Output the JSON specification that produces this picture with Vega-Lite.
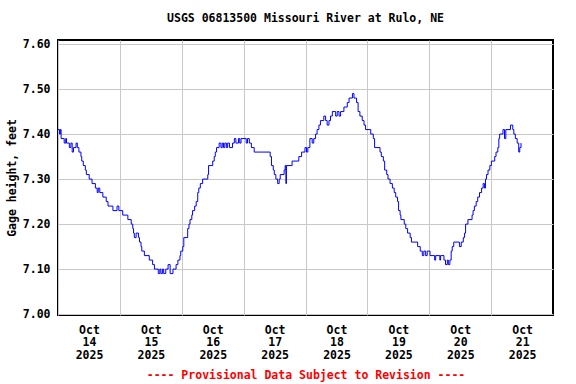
{
  "$schema": "https://vega.github.io/schema/vega-lite/v6.json",
  "autosize": {"type": "none"},
  "padding": {"left": 58, "top": 40, "right": 23, "bottom": 69},
  "width": 495,
  "height": 275,
  "background": "white",
  "title": {
    "text": "USGS 06813500 Missouri River at Rulo, NE",
    "font": "DejaVu Sans Mono",
    "fontSize": 11.5,
    "fontWeight": "bold",
    "color": "black",
    "anchor": "middle",
    "offset": 14
  },
  "config": {
    "view": {"stroke": "black", "strokeWidth": 2},
    "axis": {
      "labelFont": "DejaVu Sans Mono",
      "labelFontSize": 11.5,
      "labelFontWeight": "bold",
      "labelColor": "black",
      "titleFont": "DejaVu Sans Mono",
      "titleFontSize": 11.5,
      "titleFontWeight": "bold",
      "gridColor": "#c8c8c8",
      "gridWidth": 1,
      "gridOpacity": 1,
      "ticks": false,
      "domain": false
    }
  },
  "data": {
    "values": [
      {"time": "2025-10-14T00:00Z", "gage": 7.41},
      {"time": "2025-10-14T00:36Z", "gage": 7.40},
      {"time": "2025-10-14T00:54Z", "gage": 7.41},
      {"time": "2025-10-14T01:12Z", "gage": 7.39},
      {"time": "2025-10-14T02:24Z", "gage": 7.38},
      {"time": "2025-10-14T03:00Z", "gage": 7.39},
      {"time": "2025-10-14T03:18Z", "gage": 7.38},
      {"time": "2025-10-14T04:24Z", "gage": 7.37},
      {"time": "2025-10-14T05:00Z", "gage": 7.38},
      {"time": "2025-10-14T05:30Z", "gage": 7.36},
      {"time": "2025-10-14T06:00Z", "gage": 7.37},
      {"time": "2025-10-14T07:00Z", "gage": 7.38},
      {"time": "2025-10-14T07:30Z", "gage": 7.37},
      {"time": "2025-10-14T08:06Z", "gage": 7.36},
      {"time": "2025-10-14T08:54Z", "gage": 7.35},
      {"time": "2025-10-14T09:12Z", "gage": 7.34},
      {"time": "2025-10-14T09:48Z", "gage": 7.33},
      {"time": "2025-10-14T10:36Z", "gage": 7.32},
      {"time": "2025-10-14T11:00Z", "gage": 7.31},
      {"time": "2025-10-14T12:06Z", "gage": 7.30},
      {"time": "2025-10-14T13:12Z", "gage": 7.29},
      {"time": "2025-10-14T14:30Z", "gage": 7.28},
      {"time": "2025-10-14T15:12Z", "gage": 7.27},
      {"time": "2025-10-14T15:36Z", "gage": 7.28},
      {"time": "2025-10-14T16:12Z", "gage": 7.27},
      {"time": "2025-10-14T17:24Z", "gage": 7.26},
      {"time": "2025-10-14T18:42Z", "gage": 7.25},
      {"time": "2025-10-14T19:24Z", "gage": 7.24},
      {"time": "2025-10-14T21:18Z", "gage": 7.23},
      {"time": "2025-10-14T22:54Z", "gage": 7.24},
      {"time": "2025-10-14T23:36Z", "gage": 7.23},
      {"time": "2025-10-15T01:06Z", "gage": 7.22},
      {"time": "2025-10-15T03:06Z", "gage": 7.21},
      {"time": "2025-10-15T04:24Z", "gage": 7.20},
      {"time": "2025-10-15T05:00Z", "gage": 7.19},
      {"time": "2025-10-15T05:18Z", "gage": 7.18},
      {"time": "2025-10-15T05:36Z", "gage": 7.17},
      {"time": "2025-10-15T06:18Z", "gage": 7.18},
      {"time": "2025-10-15T07:12Z", "gage": 7.17},
      {"time": "2025-10-15T07:36Z", "gage": 7.16},
      {"time": "2025-10-15T08:12Z", "gage": 7.15},
      {"time": "2025-10-15T08:30Z", "gage": 7.14},
      {"time": "2025-10-15T09:30Z", "gage": 7.13},
      {"time": "2025-10-15T11:24Z", "gage": 7.12},
      {"time": "2025-10-15T12:42Z", "gage": 7.11},
      {"time": "2025-10-15T13:24Z", "gage": 7.10},
      {"time": "2025-10-15T14:54Z", "gage": 7.09},
      {"time": "2025-10-15T15:30Z", "gage": 7.10},
      {"time": "2025-10-15T15:54Z", "gage": 7.09},
      {"time": "2025-10-15T16:30Z", "gage": 7.10},
      {"time": "2025-10-15T17:00Z", "gage": 7.09},
      {"time": "2025-10-15T17:48Z", "gage": 7.10},
      {"time": "2025-10-15T18:42Z", "gage": 7.11},
      {"time": "2025-10-15T19:30Z", "gage": 7.09},
      {"time": "2025-10-15T20:36Z", "gage": 7.10},
      {"time": "2025-10-15T21:48Z", "gage": 7.11},
      {"time": "2025-10-15T22:30Z", "gage": 7.12},
      {"time": "2025-10-15T23:18Z", "gage": 7.13},
      {"time": "2025-10-15T23:36Z", "gage": 7.14},
      {"time": "2025-10-16T00:24Z", "gage": 7.15},
      {"time": "2025-10-16T00:48Z", "gage": 7.17},
      {"time": "2025-10-16T02:18Z", "gage": 7.19},
      {"time": "2025-10-16T02:48Z", "gage": 7.20},
      {"time": "2025-10-16T03:12Z", "gage": 7.21},
      {"time": "2025-10-16T03:54Z", "gage": 7.22},
      {"time": "2025-10-16T04:12Z", "gage": 7.23},
      {"time": "2025-10-16T05:00Z", "gage": 7.24},
      {"time": "2025-10-16T05:36Z", "gage": 7.25},
      {"time": "2025-10-16T06:12Z", "gage": 7.27},
      {"time": "2025-10-16T06:36Z", "gage": 7.28},
      {"time": "2025-10-16T07:12Z", "gage": 7.29},
      {"time": "2025-10-16T08:06Z", "gage": 7.30},
      {"time": "2025-10-16T10:06Z", "gage": 7.31},
      {"time": "2025-10-16T10:24Z", "gage": 7.33},
      {"time": "2025-10-16T12:00Z", "gage": 7.34},
      {"time": "2025-10-16T12:36Z", "gage": 7.35},
      {"time": "2025-10-16T13:00Z", "gage": 7.36},
      {"time": "2025-10-16T13:30Z", "gage": 7.37},
      {"time": "2025-10-16T14:30Z", "gage": 7.38},
      {"time": "2025-10-16T15:12Z", "gage": 7.37},
      {"time": "2025-10-16T15:42Z", "gage": 7.38},
      {"time": "2025-10-16T16:12Z", "gage": 7.37},
      {"time": "2025-10-16T16:42Z", "gage": 7.38},
      {"time": "2025-10-16T17:18Z", "gage": 7.37},
      {"time": "2025-10-16T17:48Z", "gage": 7.38},
      {"time": "2025-10-16T18:30Z", "gage": 7.37},
      {"time": "2025-10-16T19:42Z", "gage": 7.38},
      {"time": "2025-10-16T20:24Z", "gage": 7.39},
      {"time": "2025-10-16T21:00Z", "gage": 7.38},
      {"time": "2025-10-16T22:00Z", "gage": 7.39},
      {"time": "2025-10-16T22:30Z", "gage": 7.38},
      {"time": "2025-10-16T23:00Z", "gage": 7.39},
      {"time": "2025-10-17T01:00Z", "gage": 7.38},
      {"time": "2025-10-17T01:30Z", "gage": 7.39},
      {"time": "2025-10-17T02:12Z", "gage": 7.38},
      {"time": "2025-10-17T03:00Z", "gage": 7.37},
      {"time": "2025-10-17T04:06Z", "gage": 7.36},
      {"time": "2025-10-17T10:18Z", "gage": 7.35},
      {"time": "2025-10-17T10:48Z", "gage": 7.33},
      {"time": "2025-10-17T11:30Z", "gage": 7.32},
      {"time": "2025-10-17T11:54Z", "gage": 7.31},
      {"time": "2025-10-17T12:30Z", "gage": 7.30},
      {"time": "2025-10-17T13:12Z", "gage": 7.29},
      {"time": "2025-10-17T13:48Z", "gage": 7.30},
      {"time": "2025-10-17T14:12Z", "gage": 7.31},
      {"time": "2025-10-17T15:42Z", "gage": 7.32},
      {"time": "2025-10-17T16:06Z", "gage": 7.33},
      {"time": "2025-10-17T16:24Z", "gage": 7.29},
      {"time": "2025-10-17T16:36Z", "gage": 7.33},
      {"time": "2025-10-17T18:48Z", "gage": 7.34},
      {"time": "2025-10-17T21:24Z", "gage": 7.35},
      {"time": "2025-10-17T22:30Z", "gage": 7.36},
      {"time": "2025-10-17T23:48Z", "gage": 7.37},
      {"time": "2025-10-18T00:24Z", "gage": 7.36},
      {"time": "2025-10-18T00:54Z", "gage": 7.37},
      {"time": "2025-10-18T01:42Z", "gage": 7.39},
      {"time": "2025-10-18T02:36Z", "gage": 7.38},
      {"time": "2025-10-18T03:12Z", "gage": 7.39},
      {"time": "2025-10-18T03:54Z", "gage": 7.40},
      {"time": "2025-10-18T04:30Z", "gage": 7.41},
      {"time": "2025-10-18T05:12Z", "gage": 7.42},
      {"time": "2025-10-18T05:48Z", "gage": 7.43},
      {"time": "2025-10-18T07:06Z", "gage": 7.44},
      {"time": "2025-10-18T07:48Z", "gage": 7.43},
      {"time": "2025-10-18T08:24Z", "gage": 7.42},
      {"time": "2025-10-18T09:06Z", "gage": 7.43},
      {"time": "2025-10-18T09:42Z", "gage": 7.44},
      {"time": "2025-10-18T10:24Z", "gage": 7.45},
      {"time": "2025-10-18T11:42Z", "gage": 7.44},
      {"time": "2025-10-18T12:18Z", "gage": 7.45},
      {"time": "2025-10-18T13:00Z", "gage": 7.44},
      {"time": "2025-10-18T13:36Z", "gage": 7.45},
      {"time": "2025-10-18T14:54Z", "gage": 7.46},
      {"time": "2025-10-18T16:12Z", "gage": 7.47},
      {"time": "2025-10-18T16:54Z", "gage": 7.48},
      {"time": "2025-10-18T18:12Z", "gage": 7.49},
      {"time": "2025-10-18T18:48Z", "gage": 7.48},
      {"time": "2025-10-18T19:48Z", "gage": 7.47},
      {"time": "2025-10-18T20:24Z", "gage": 7.45},
      {"time": "2025-10-18T21:06Z", "gage": 7.44},
      {"time": "2025-10-18T22:00Z", "gage": 7.43},
      {"time": "2025-10-18T22:42Z", "gage": 7.42},
      {"time": "2025-10-18T23:18Z", "gage": 7.41},
      {"time": "2025-10-19T01:18Z", "gage": 7.40},
      {"time": "2025-10-19T02:18Z", "gage": 7.39},
      {"time": "2025-10-19T02:48Z", "gage": 7.37},
      {"time": "2025-10-19T04:54Z", "gage": 7.36},
      {"time": "2025-10-19T05:24Z", "gage": 7.35},
      {"time": "2025-10-19T06:12Z", "gage": 7.34},
      {"time": "2025-10-19T06:42Z", "gage": 7.32},
      {"time": "2025-10-19T07:30Z", "gage": 7.31},
      {"time": "2025-10-19T08:00Z", "gage": 7.30},
      {"time": "2025-10-19T08:48Z", "gage": 7.29},
      {"time": "2025-10-19T09:42Z", "gage": 7.28},
      {"time": "2025-10-19T10:24Z", "gage": 7.27},
      {"time": "2025-10-19T11:00Z", "gage": 7.26},
      {"time": "2025-10-19T11:42Z", "gage": 7.25},
      {"time": "2025-10-19T12:06Z", "gage": 7.23},
      {"time": "2025-10-19T12:42Z", "gage": 7.22},
      {"time": "2025-10-19T13:00Z", "gage": 7.21},
      {"time": "2025-10-19T14:18Z", "gage": 7.20},
      {"time": "2025-10-19T14:54Z", "gage": 7.19},
      {"time": "2025-10-19T15:36Z", "gage": 7.18},
      {"time": "2025-10-19T16:36Z", "gage": 7.17},
      {"time": "2025-10-19T17:06Z", "gage": 7.16},
      {"time": "2025-10-19T19:30Z", "gage": 7.15},
      {"time": "2025-10-19T20:30Z", "gage": 7.14},
      {"time": "2025-10-19T21:18Z", "gage": 7.13},
      {"time": "2025-10-19T21:54Z", "gage": 7.14},
      {"time": "2025-10-19T22:36Z", "gage": 7.13},
      {"time": "2025-10-19T23:12Z", "gage": 7.14},
      {"time": "2025-10-20T00:18Z", "gage": 7.13},
      {"time": "2025-10-20T02:06Z", "gage": 7.12},
      {"time": "2025-10-20T02:30Z", "gage": 7.13},
      {"time": "2025-10-20T04:06Z", "gage": 7.12},
      {"time": "2025-10-20T04:24Z", "gage": 7.13},
      {"time": "2025-10-20T05:42Z", "gage": 7.12},
      {"time": "2025-10-20T06:18Z", "gage": 7.11},
      {"time": "2025-10-20T07:00Z", "gage": 7.12},
      {"time": "2025-10-20T07:24Z", "gage": 7.11},
      {"time": "2025-10-20T08:00Z", "gage": 7.12},
      {"time": "2025-10-20T08:30Z", "gage": 7.14},
      {"time": "2025-10-20T08:54Z", "gage": 7.15},
      {"time": "2025-10-20T09:30Z", "gage": 7.16},
      {"time": "2025-10-20T11:42Z", "gage": 7.15},
      {"time": "2025-10-20T12:24Z", "gage": 7.16},
      {"time": "2025-10-20T13:12Z", "gage": 7.17},
      {"time": "2025-10-20T13:42Z", "gage": 7.18},
      {"time": "2025-10-20T14:06Z", "gage": 7.20},
      {"time": "2025-10-20T15:00Z", "gage": 7.21},
      {"time": "2025-10-20T16:36Z", "gage": 7.22},
      {"time": "2025-10-20T17:00Z", "gage": 7.23},
      {"time": "2025-10-20T17:30Z", "gage": 7.24},
      {"time": "2025-10-20T18:12Z", "gage": 7.25},
      {"time": "2025-10-20T18:48Z", "gage": 7.26},
      {"time": "2025-10-20T19:30Z", "gage": 7.27},
      {"time": "2025-10-20T20:18Z", "gage": 7.28},
      {"time": "2025-10-20T20:54Z", "gage": 7.29},
      {"time": "2025-10-20T21:24Z", "gage": 7.28},
      {"time": "2025-10-20T21:48Z", "gage": 7.30},
      {"time": "2025-10-20T22:12Z", "gage": 7.31},
      {"time": "2025-10-20T22:48Z", "gage": 7.32},
      {"time": "2025-10-20T23:30Z", "gage": 7.33},
      {"time": "2025-10-21T00:06Z", "gage": 7.34},
      {"time": "2025-10-21T01:24Z", "gage": 7.35},
      {"time": "2025-10-21T01:54Z", "gage": 7.36},
      {"time": "2025-10-21T02:36Z", "gage": 7.37},
      {"time": "2025-10-21T03:00Z", "gage": 7.39},
      {"time": "2025-10-21T03:18Z", "gage": 7.40},
      {"time": "2025-10-21T04:36Z", "gage": 7.41},
      {"time": "2025-10-21T05:12Z", "gage": 7.39},
      {"time": "2025-10-21T05:42Z", "gage": 7.41},
      {"time": "2025-10-21T07:30Z", "gage": 7.42},
      {"time": "2025-10-21T08:24Z", "gage": 7.41},
      {"time": "2025-10-21T08:48Z", "gage": 7.40},
      {"time": "2025-10-21T09:24Z", "gage": 7.39},
      {"time": "2025-10-21T10:06Z", "gage": 7.38},
      {"time": "2025-10-21T10:42Z", "gage": 7.36},
      {"time": "2025-10-21T11:06Z", "gage": 7.37},
      {"time": "2025-10-21T11:36Z", "gage": 7.38}
    ]
  },
  "mark": {"type": "line", "interpolate": "step-after", "color": "#0000ff", "strokeWidth": 1},
  "encoding": {
    "x": {
      "field": "time",
      "type": "temporal",
      "scale": {
        "type": "utc",
        "domain": [
          {"year": 2025, "month": 10, "date": 14, "utc": true},
          {"year": 2025, "month": 10, "date": 22, "utc": true}
        ],
        "nice": false
      },
      "axis": {
        "values": [
          {"year": 2025, "month": 10, "date": 14, "utc": true},
          {"year": 2025, "month": 10, "date": 15, "utc": true},
          {"year": 2025, "month": 10, "date": 16, "utc": true},
          {"year": 2025, "month": 10, "date": 17, "utc": true},
          {"year": 2025, "month": 10, "date": 18, "utc": true},
          {"year": 2025, "month": 10, "date": 19, "utc": true},
          {"year": 2025, "month": 10, "date": 20, "utc": true},
          {"year": 2025, "month": 10, "date": 21, "utc": true}
        ],
        "labelExpr": "[utcFormat(datum.value, '%b'), utcFormat(datum.value, '%d'), utcFormat(datum.value, '%Y')]",
        "labelOffset": 31,
        "labelAlign": "center",
        "labelBaseline": "top",
        "labelPadding": 9,
        "labelLineHeight": 12.5,
        "labelOverlap": false,
        "labelFlush": false,
        "labelBound": false,
        "grid": true,
        "title": "---- Provisional Data Subject to Revision ----",
        "titleColor": "#ff0000",
        "titlePadding": 9
      }
    },
    "y": {
      "field": "gage",
      "type": "quantitative",
      "scale": {"domain": [6.998, 7.609], "nice": false, "zero": false},
      "axis": {
        "values": [7.0, 7.1, 7.2, 7.3, 7.4, 7.5, 7.6],
        "format": ".2f",
        "labelPadding": 8,
        "grid": true,
        "title": "Gage height, feet",
        "titlePadding": 5
      }
    }
  }
}
